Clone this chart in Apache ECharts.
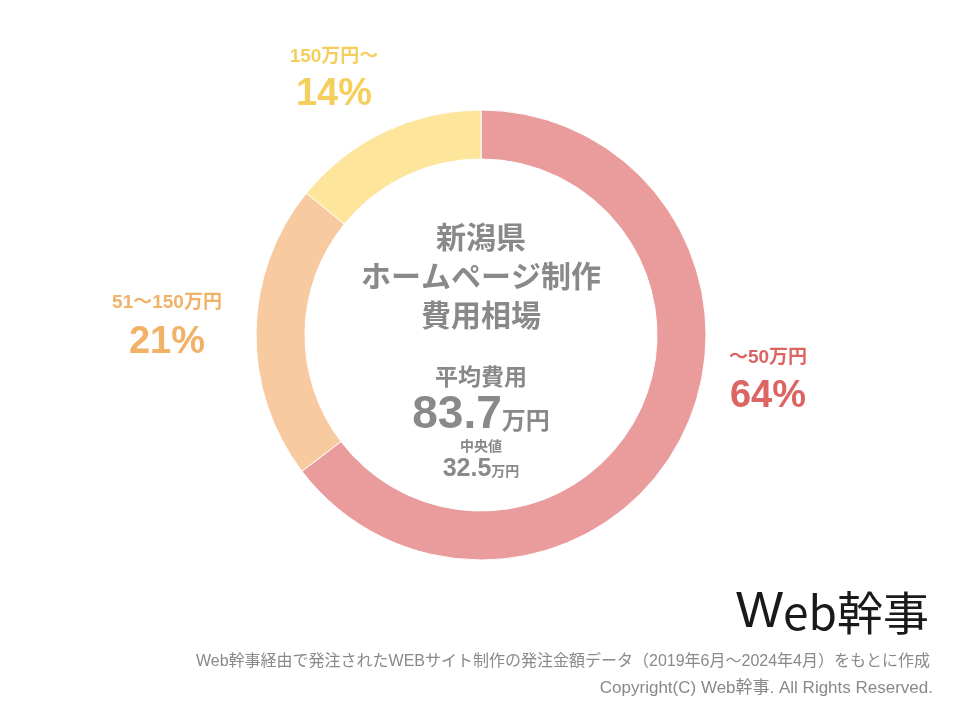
<!DOCTYPE html>
<html><head><meta charset="utf-8">
<script src="https://cdn.jsdelivr.net/npm/echarts@6/dist/echarts.min.js"></script>
<style>html,body{margin:0;padding:0;background:#fff}#c{width:960px;height:720px}</style>
</head><body><div id="c"></div>
<script>
const categories = ['～50万円', '51～150万円', '150万円～'];
const values = [64, 21, 14];
const sliceColors = ['#EA9B9B', '#F8CA9F', '#FDE59B'];
const labelColors = ['#DC6463', '#F1B167', '#F5CF5D'];
const titleLines = ['新潟県', 'ホームページ制作', '費用相場'];
const avgLabel = '平均費用';
const avgValue = '83.7';
const medianLabel = '中央値';
const medianValue = '32.5';
const unit = '万円';
const footerLines = ['Web幹事経由で発注されたWEBサイト制作の発注金額データ（2019年6月～2024年4月）をもとに作成', 'Copyright(C) Web幹事. All Rights Reserved.'];

const FONT = '"Liberation Sans", Arial, "Noto Sans CJK JP", sans-serif';
const gray = '#898989';
const labelPos = [[768, 358, 397], [167, 303, 343], [334, 57, 95]];

const chart = echarts.init(document.getElementById('c'), null, {renderer: 'canvas'});
const graphics = [];
titleLines.forEach((t, i) => graphics.push({type: 'text', x: 481, y: 240 + i * 39, style: {text: t, font: 'bold 30px ' + FONT, fill: gray, align: 'center', verticalAlign: 'middle'}}));
graphics.push({type: 'text', x: 481, y: 379, style: {text: avgLabel, font: 'bold 23px ' + FONT, fill: gray, align: 'center', verticalAlign: 'middle'}});
graphics.push({type: 'text', x: 481, y: 415, style: {
  text: '{a|' + avgValue + '}{b|' + unit + '}', align: 'center', verticalAlign: 'middle',
  rich: {a: {font: 'bold 46px ' + FONT, fill: gray, verticalAlign: 'bottom'}, b: {font: 'bold 24px ' + FONT, fill: gray, verticalAlign: 'bottom', padding: [0,0,4,0]}}}});
graphics.push({type: 'text', x: 481, y: 447, style: {text: medianLabel, font: 'bold 14px ' + FONT, fill: gray, align: 'center', verticalAlign: 'middle'}});
graphics.push({type: 'text', x: 481, y: 469, style: {
  text: '{a|' + medianValue + '}{b|' + unit + '}', align: 'center', verticalAlign: 'middle',
  rich: {a: {font: 'bold 25px ' + FONT, fill: gray, verticalAlign: 'bottom'}, b: {font: 'bold 14px ' + FONT, fill: gray, verticalAlign: 'bottom', padding: [0,0,2,0]}}}});
categories.forEach((c, i) => {
  graphics.push({type: 'text', x: labelPos[i][0], y: labelPos[i][1], style: {text: c, font: 'bold 19px ' + FONT, fill: labelColors[i], align: 'center', verticalAlign: 'middle'}});
  graphics.push({type: 'text', x: labelPos[i][0], y: labelPos[i][2], style: {text: values[i] + '%', font: 'bold 38px ' + FONT, fill: labelColors[i], align: 'center', verticalAlign: 'middle'}});
});
graphics.push({type: 'text', x: 929, y: 613, style: {
  text: '{w|W}{e|eb幹事}', align: 'right', verticalAlign: 'middle',
  rich: {w: {font: '50px ' + FONT, fill: '#1a1a1a'}, e: {font: '46px "Noto Sans CJK JP", ' + FONT, fill: '#1a1a1a'}}}});
graphics.push({type: 'text', x: 930, y: 662, style: {text: footerLines[0], font: '16px ' + FONT, fill: gray, align: 'right', verticalAlign: 'middle'}});
graphics.push({type: 'text', x: 933, y: 688, style: {text: footerLines[1], font: '17px ' + FONT, fill: gray, align: 'right', verticalAlign: 'middle'}});

chart.setOption({
  animation: false,
  backgroundColor: '#fff',
  series: [{
    type: 'pie',
    center: [481, 335],
    radius: [176, 225],
    startAngle: 90,
    clockwise: true,
    label: {show: false},
    labelLine: {show: false},
    silent: true,
    itemStyle: {borderColor: '#fff', borderWidth: 1},
    data: categories.map((c, i) => ({name: c, value: values[i], itemStyle: {color: sliceColors[i]}}))
  }],
  graphic: graphics
});
</script></body></html>
